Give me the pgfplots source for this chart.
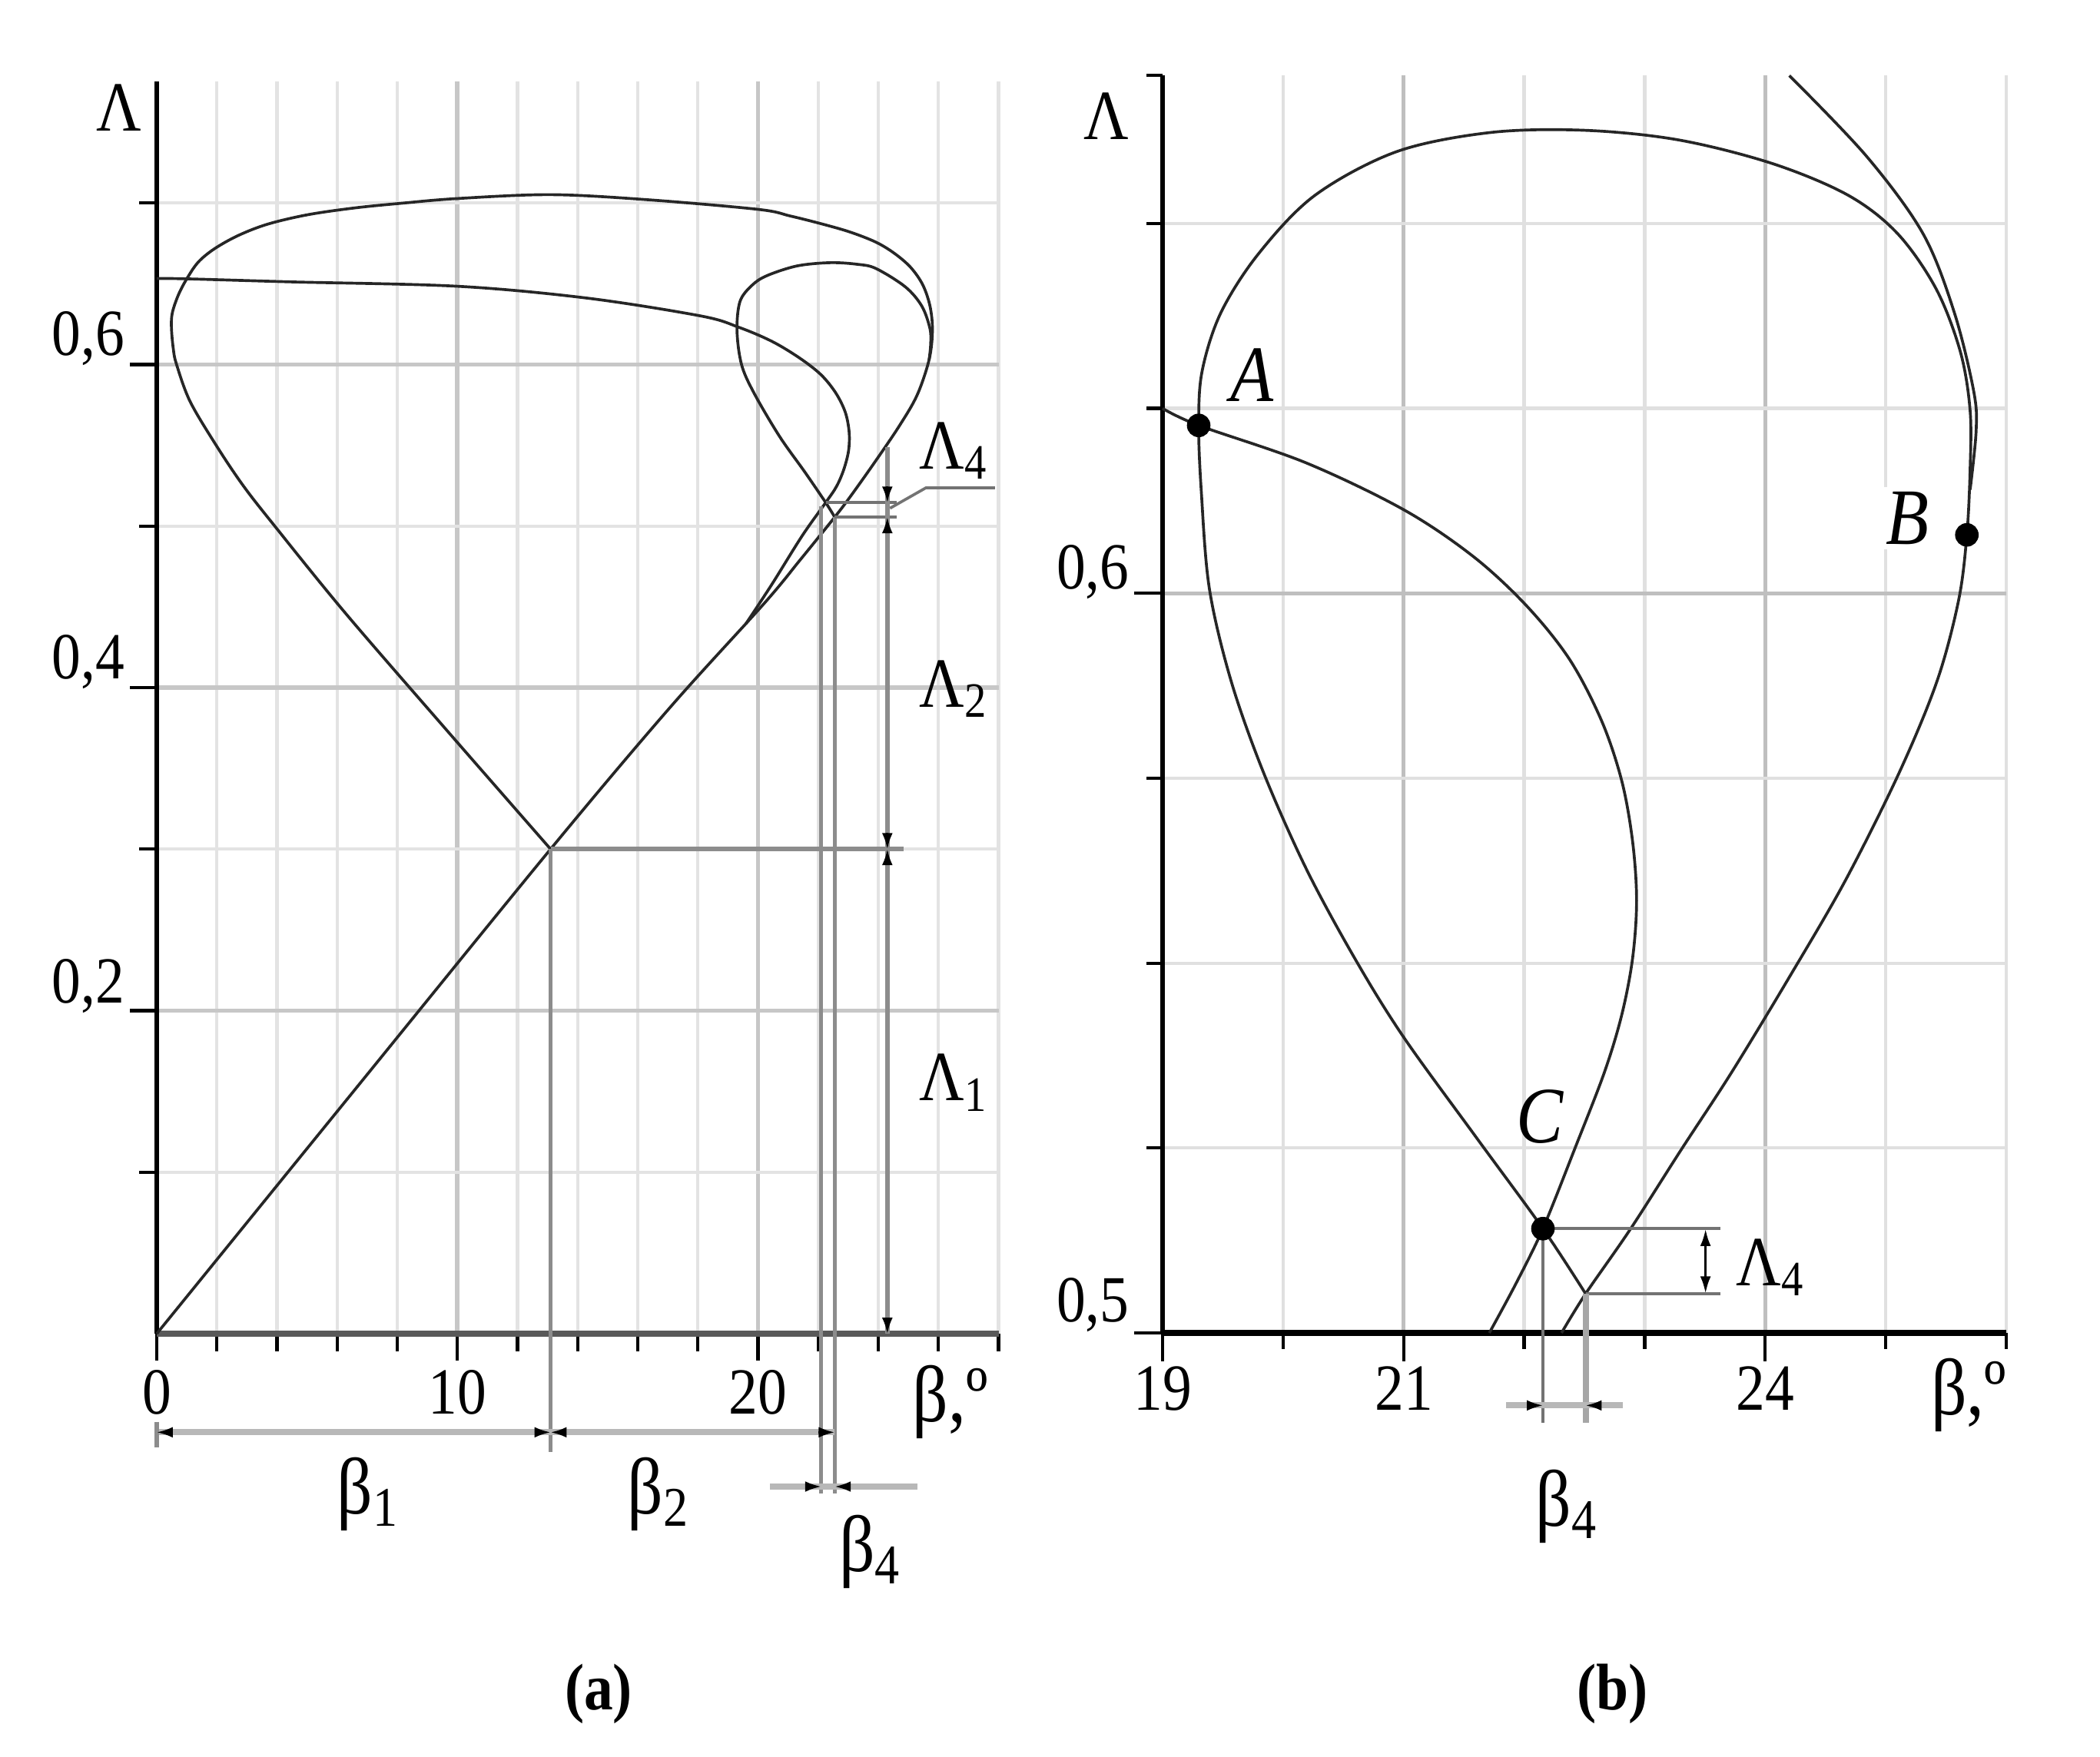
\documentclass[border=0pt]{standalone}
\usepackage{fontspec}
\setmainfont{Liberation Serif}[FakeStretch=0.88]
\usepackage{pgfplots}
\pgfplotsset{compat=1.18}
\usetikzlibrary{arrows.meta}

\newcommand{\fs}[1]{\fontsize{#1}{#1}\selectfont}

\tikzset{
  crv/.style={black!85, line width=0.6pt, smooth, tension=0.55},
  dimA/.style={black!45, line width=0.9pt},
  dimL/.style={black!28, line width=1.3pt},
  thinL/.style={black!55, line width=0.6pt},
  tp/.style={black, line width=0.5pt, -{Latex[length=1.2mm,width=0.8mm]}},
}

\begin{document}
\begin{tikzpicture}[x=1cm,y=1cm]
\useasboundingbox (0,0) rectangle (15.68,-13.12);

% ---------------- panel (a) ----------------
\begin{axis}[
  at={(1.17cm,-9.96cm)}, anchor=south west,
  scale only axis, width=6.286cm, height=9.35cm,
  xmin=0, xmax=28, ymin=0, ymax=0.775,
  axis lines=left, axis line style={-},
  x axis line style={black!65, line width=1.4pt},
  y axis line style={black, line width=1.0pt},
  xtick={0,10,20}, minor xtick={2,4,6,8,12,14,16,18,22,24,26,28},
  ytick={0.2,0.4,0.6}, minor ytick={0.1,0.3,0.5,0.7},
  xticklabels={}, yticklabels={},
  tick align=outside, major tick length=0.2cm, minor tick length=0.13cm,
  tick style={black, line width=0.7pt},
  grid=both,
  major grid style={black!22, line width=0.9pt},
  minor grid style={black!11, line width=0.7pt},
  clip=false,
]
% outer loop with the rising line
\addplot[crv] coordinates {
  (0,0) (6.5,0.149) (13.1,0.300) (17.06,0.3874) (20.2,0.452) (21.4,0.479)
  (22.55,0.5055) (23.1,0.519) (23.9,0.540) (24.7,0.562) (25.29,0.581)
  (25.69,0.603) (25.8,0.621) (25.72,0.636) (25.48,0.6492) (25.08,0.6600)
  (24.54,0.6687) (23.92,0.6757) (23.07,0.6819) (22.16,0.6868) (21.07,0.6919)
  (20.0,0.6960) (16.3,0.7020) (13.1,0.7051) (10.0,0.7027) (8.15,0.6998)
  (6.59,0.6969) (5.03,0.6927) (3.70,0.6869) (2.72,0.6799) (1.92,0.6716)
  (1.38,0.6633) (1.0,0.653) (0.72,0.643) (0.52,0.632) (0.49,0.6229)
  (0.55,0.61) (0.66,0.600) (1.11,0.5771) (1.99,0.5496) (2.88,0.5249)
  (3.92,0.5001) (6.27,0.4462) (9.58,0.3750) (13.1,0.300)
};
% curve starting on the axis
\addplot[crv] coordinates {
  (0,0.6532) (1.0,0.653) (4.5,0.6511) (10.0,0.6484) (14.3,0.6411)
  (18.1,0.630) (19.36,0.623) (20.46,0.6143) (21.38,0.6040) (22.09,0.5937)
  (22.58,0.5825) (22.90,0.5705) (23.03,0.5581) (23.01,0.5465) (22.85,0.5349)
  (22.61,0.5245) (22.25,0.5145) (21.47,0.4940) (20.45,0.4636) (19.6,0.4396)
};
% small loop
\addplot[crv] coordinates {
  (22.55,0.5055) (22.25,0.5145) (21.56,0.5333) (20.71,0.5556) (19.86,0.5825)
  (19.45,0.600) (19.3,0.621) (19.4,0.639) (19.8,0.649) (20.3,0.655)
  (21.3,0.661) (22.4,0.663) (23.3,0.662) (23.92,0.6594) (24.9,0.648)
  (25.45,0.636) (25.72,0.622) (25.74,0.612) (25.69,0.603)
};
% construction lines
\draw[dimA] (axis cs:13.1,0.30) -- (axis cs:24.85,0.30);
\draw[dimA] (axis cs:13.1,0.30) -- (axis cs:13.1,-0.073);
\draw[dimA] (axis cs:22.1,0.512) -- (axis cs:22.1,-0.099);
\draw[dimA] (axis cs:22.55,0.5055) -- (axis cs:22.55,-0.099);
\draw[thinL] (axis cs:22.25,0.5145) -- (axis cs:24.6,0.5145);
\draw[thinL] (axis cs:22.55,0.5055) -- (axis cs:24.6,0.5055);
\draw[thinL] (axis cs:24.39,0.511) -- (axis cs:25.58,0.5236) -- (axis cs:27.88,0.5236);
\draw[dimA] (axis cs:24.3,0.549) -- (axis cs:24.3,0);
\draw[tp] ([yshift=0.12cm]axis cs:24.3,0.5145) -- (axis cs:24.3,0.5145);
\draw[tp] ([yshift=-0.12cm]axis cs:24.3,0.5055) -- (axis cs:24.3,0.5055);
\draw[tp] ([yshift=0.12cm]axis cs:24.3,0.30) -- (axis cs:24.3,0.30);
\draw[tp] ([yshift=-0.12cm]axis cs:24.3,0.30) -- (axis cs:24.3,0.30);
\draw[tp] ([yshift=0.12cm]axis cs:24.3,0) -- (axis cs:24.3,0);
% dimension rows below the axis
\draw[dimL] (axis cs:0,-0.061) -- (axis cs:22.55,-0.061);
\draw[dimA] (axis cs:0,-0.0545) -- (axis cs:0,-0.0703);
\draw[tp] ([xshift=0.12cm]axis cs:0,-0.061) -- (axis cs:0,-0.061);
\draw[tp] ([xshift=-0.12cm]axis cs:13.1,-0.061) -- (axis cs:13.1,-0.061);
\draw[tp] ([xshift=0.12cm]axis cs:13.1,-0.061) -- (axis cs:13.1,-0.061);
\draw[tp] ([xshift=-0.12cm]axis cs:22.55,-0.061) -- (axis cs:22.55,-0.061);
\draw[dimL] (axis cs:20.4,-0.0946) -- (axis cs:25.3,-0.0946);
\draw[tp] ([xshift=-0.12cm]axis cs:22.1,-0.0946) -- (axis cs:22.1,-0.0946);
\draw[tp] ([xshift=0.12cm]axis cs:22.55,-0.0946) -- (axis cs:22.55,-0.0946);
\end{axis}

% ---------------- panel (b) ----------------
\begin{axis}[
  at={(8.68cm,-9.954cm)}, anchor=south west,
  scale only axis, width=6.3cm, height=9.39cm,
  xmin=19, xmax=26, ymin=0.5, ymax=0.67,
  axis lines=left, axis line style={-},
  x axis line style={black, line width=1.2pt},
  y axis line style={black, line width=1.1pt},
  xtick={19,21,24}, minor xtick={20,22,23,25,26},
  ytick={0.5,0.6}, minor ytick={0.525,0.55,0.575,0.625,0.65},
  xticklabels={}, yticklabels={},
  tick align=outside, major tick length=0.21cm, minor tick length=0.12cm,
  tick style={black, line width=0.7pt},
  grid=both,
  major grid style={black!25, line width=0.8pt},
  minor grid style={black!12, line width=0.7pt},
  clip=false,
]
\draw[black, line width=0.7pt] (axis cs:19,0.67) -- ([xshift=-0.12cm]axis cs:19,0.67);
% curve through A and C
\addplot[crv] coordinates {
  (19,0.625) (19.3,0.6227) (20.189,0.61765) (21.0,0.61131) (21.578,0.60498)
  (22.022,0.59828) (22.378,0.59104) (22.644,0.58271) (22.811,0.57457)
  (22.9,0.56643) (22.933,0.55846) (22.9,0.55068) (22.811,0.54308)
  (22.667,0.53529) (22.422,0.52498) (22.156,0.51412) (21.933,0.5067)
  (21.711,0.5)
};
% loop through A, B and C
\addplot[crv] coordinates {
  (22.51,0.5053) (22.156,0.5141) (21.6,0.5265) (21.0,0.5400) (20.6,0.5505)
  (20.194,0.5627) (19.837,0.5758) (19.568,0.5882) (19.389,0.6006)
  (19.322,0.6137) (19.30,0.6227) (19.328,0.630) (19.483,0.6379)
  (19.796,0.6459) (20.264,0.6538) (20.94,0.6597) (21.72,0.6623)
  (22.50,0.6626) (23.28,0.6613) (24.06,0.6581) (24.69,0.6538) (25.10,0.6486)
  (25.42,0.6411) (25.62,0.6326) (25.70,0.6247) (25.70,0.6167) (25.673,0.6079)
  (25.605,0.5991) (25.427,0.5882) (25.113,0.5758) (24.666,0.5612)
  (24.2,0.5481) (23.72,0.5352) (23.3,0.5247) (22.88,0.514) (22.51,0.5053)
  (22.31,0.5)
};
% outer curve coming from the top
\addplot[crv] coordinates {
  (24.2,0.67) (24.84,0.6591) (25.31,0.6486) (25.57,0.6379) (25.73,0.6273)
  (25.75,0.622) (25.70,0.614)
};
\addplot[only marks, mark=*, mark size=2.3pt, black] coordinates {
  (19.3,0.6227) (25.673,0.6079) (22.156,0.5141)
};
\draw[thinL] (axis cs:22.156,0.5141) -- (axis cs:23.63,0.5141);
\draw[thinL] (axis cs:22.51,0.5053) -- (axis cs:23.63,0.5053);
\draw[black, line width=0.6pt, {Latex[length=1.3mm,width=0.8mm]}-{Latex[length=1.3mm,width=0.8mm]}]
  (axis cs:23.505,0.5053) -- (axis cs:23.505,0.5141);
\draw[thinL] (axis cs:22.156,0.5141) -- (axis cs:22.156,0.4878);
\draw[dimL, black!35] (axis cs:22.51,0.5053) -- (axis cs:22.51,0.4878);
\draw[dimL] (axis cs:21.85,0.4902) -- (axis cs:22.82,0.4902);
\draw[tp] ([xshift=-0.12cm]axis cs:22.156,0.4902) -- (axis cs:22.156,0.4902);
\draw[tp] ([xshift=0.12cm]axis cs:22.51,0.4902) -- (axis cs:22.51,0.4902);
\end{axis}

% ---------------- texts ----------------
\begin{scope}[every node/.style={inner sep=0pt, outer sep=0pt}]
% panel (a)
\node[font=\fs{15}, anchor=base] at (0.89,-0.98) {Λ};
\node[font=\fs{14}, anchor=base east] at (0.93,-2.654) {0,6};
\node[font=\fs{14}, anchor=base east] at (0.93,-5.07) {0,4};
\node[font=\fs{14}, anchor=base east] at (0.93,-7.488) {0,2};
\node[font=\fs{14}] at (1.17,-10.40) {0};
\node[font=\fs{14}] at (3.415,-10.40) {10};
\node[font=\fs{14}] at (5.66,-10.40) {20};
\node[font=\fs{17}] at (7.095,-10.47) {β,º};
\node[font=\fs{17}] at (2.75,-11.16) {β\textsubscript{1}};
\node[font=\fs{17}] at (4.92,-11.16) {β\textsubscript{2}};
\node[font=\fs{17}] at (6.50,-11.59) {β\textsubscript{4}};
\node[font=\fs{15}, anchor=base west] at (6.866,-3.50) {Λ\textsubscript{4}};
\node[font=\fs{15}, anchor=base west] at (6.866,-5.28) {Λ\textsubscript{2}};
\node[font=\fs{15}, anchor=base west] at (6.866,-8.22) {Λ\textsubscript{1}};
\node[font=\bfseries\fs{14}] at (4.47,-12.65) {(a)};
% panel (b)
\node[font=\fs{15}, anchor=base] at (8.26,-1.04) {Λ};
\node[font=\fs{14}, anchor=base east] at (8.43,-4.40) {0,6};
\node[font=\fs{14}, anchor=base east] at (8.43,-9.87) {0,5};
\node[font=\fs{14}] at (8.682,-10.37) {19};
\node[font=\fs{14}] at (10.482,-10.37) {21};
\node[font=\fs{14}] at (13.182,-10.37) {24};
\node[font=\fs{17}] at (14.70,-10.42) {β,º};
\node[font=\itshape\fs{17}, fill=white, inner sep=1pt] at (9.35,-2.80) {A};
\node[font=\itshape\fs{17}, fill=white, inner sep=1pt] at (14.24,-3.87) {B};
\node[font=\itshape\fs{17}] at (11.50,-8.34) {C};
\node[font=\fs{15}, anchor=base west] at (12.965,-9.60) {Λ\textsubscript{4}};
\node[font=\fs{17}] at (11.70,-11.25) {β\textsubscript{4}};
\node[font=\bfseries\fs{14}] at (12.04,-12.65) {(b)};
\end{scope}
\end{tikzpicture}
\end{document}
